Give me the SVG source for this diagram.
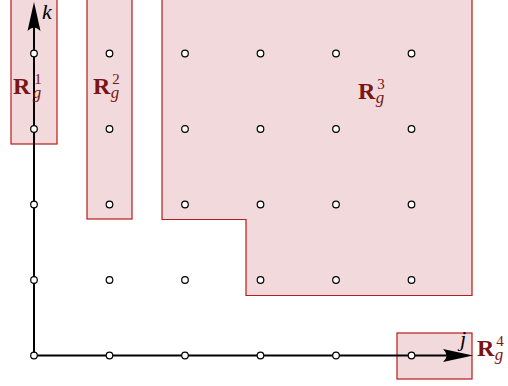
<svg xmlns="http://www.w3.org/2000/svg" width="508" height="386" viewBox="0 0 508 386">
<style>
.reg{fill:#f2d9db;stroke:#b71c1c;stroke-width:1.2}
.ax{stroke:#000;stroke-width:2;fill:none}
.ah{fill:#000}
.pt{fill:#fff;stroke:#000;stroke-width:1.2}
.lbl{font-family:"Liberation Serif","DejaVu Serif",serif;fill:#7a1515}
.R{font-weight:bold;font-size:24px}
.sub{font-style:italic;font-size:17px}
.sup{font-size:15px}
.axl{font-family:"Liberation Serif","DejaVu Serif",serif;font-style:italic;font-size:22px;fill:#000}
</style>
<g id="regions">
<g id="R1"><rect class="reg" x="11" y="-2" width="46" height="146"/></g>
<g id="R2"><rect class="reg" x="87" y="-2" width="45" height="221"/></g>
<g id="R3"><path class="reg" d="M162,-2 L472,-2 L472,295.5 L246,295.5 L246,219.5 L162,219.5 Z"/></g>
<g id="R4"><rect class="reg" x="397" y="333" width="75" height="46"/></g>
</g>
<g id="connectors">
<line class="ax" x1="34" y1="356.5" x2="34" y2="20"/>
<path class="ah" d="M34,2 L40.5,31 Q34,24 27.5,31 Z"/>
<line class="ax" x1="33" y1="355.5" x2="455" y2="355.5"/>
<path class="ah" d="M473,355.5 L443,349 Q450,355.5 443,362 Z"/>
</g>
<g id="points">
<circle class="pt" cx="34" cy="53.5" r="3.3"/><circle class="pt" cx="109.5" cy="53.5" r="3.3"/><circle class="pt" cx="185" cy="53.5" r="3.3"/><circle class="pt" cx="260.5" cy="53.5" r="3.3"/><circle class="pt" cx="336" cy="53.5" r="3.3"/><circle class="pt" cx="411.5" cy="53.5" r="3.3"/>
<circle class="pt" cx="34" cy="129" r="3.3"/><circle class="pt" cx="109.5" cy="129" r="3.3"/><circle class="pt" cx="185" cy="129" r="3.3"/><circle class="pt" cx="260.5" cy="129" r="3.3"/><circle class="pt" cx="336" cy="129" r="3.3"/><circle class="pt" cx="411.5" cy="129" r="3.3"/>
<circle class="pt" cx="34" cy="204.5" r="3.3"/><circle class="pt" cx="109.5" cy="204.5" r="3.3"/><circle class="pt" cx="185" cy="204.5" r="3.3"/><circle class="pt" cx="260.5" cy="204.5" r="3.3"/><circle class="pt" cx="336" cy="204.5" r="3.3"/><circle class="pt" cx="411.5" cy="204.5" r="3.3"/>
<circle class="pt" cx="34" cy="280" r="3.3"/><circle class="pt" cx="109.5" cy="280" r="3.3"/><circle class="pt" cx="185" cy="280" r="3.3"/><circle class="pt" cx="260.5" cy="280" r="3.3"/><circle class="pt" cx="336" cy="280" r="3.3"/><circle class="pt" cx="411.5" cy="280" r="3.3"/>
<circle class="pt" cx="34" cy="355.5" r="3.3"/><circle class="pt" cx="109.5" cy="355.5" r="3.3"/><circle class="pt" cx="185" cy="355.5" r="3.3"/><circle class="pt" cx="260.5" cy="355.5" r="3.3"/><circle class="pt" cx="336" cy="355.5" r="3.3"/><circle class="pt" cx="411.5" cy="355.5" r="3.3"/>
</g>
<g id="labels">
<text class="axl" x="42" y="19">k</text>
<text class="axl" x="460" y="346">j</text>
<text class="lbl" x="13" y="94"><tspan class="R">R</tspan><tspan class="sup" dx="4" dy="-10">1</tspan><tspan class="sub" dx="-9" dy="14">g</tspan></text>
<text class="lbl" x="93" y="94"><tspan class="R">R</tspan><tspan class="sup" dx="2" dy="-10">2</tspan><tspan class="sub" dx="-9" dy="14">g</tspan></text>
<text class="lbl" x="358" y="99"><tspan class="R">R</tspan><tspan class="sup" dx="2" dy="-10">3</tspan><tspan class="sub" dx="-9" dy="14">g</tspan></text>
<text class="lbl" x="477" y="356"><tspan class="R">R</tspan><tspan class="sup" dx="2" dy="-10">4</tspan><tspan class="sub" dx="-9" dy="14">g</tspan></text>
</g>
</svg>
